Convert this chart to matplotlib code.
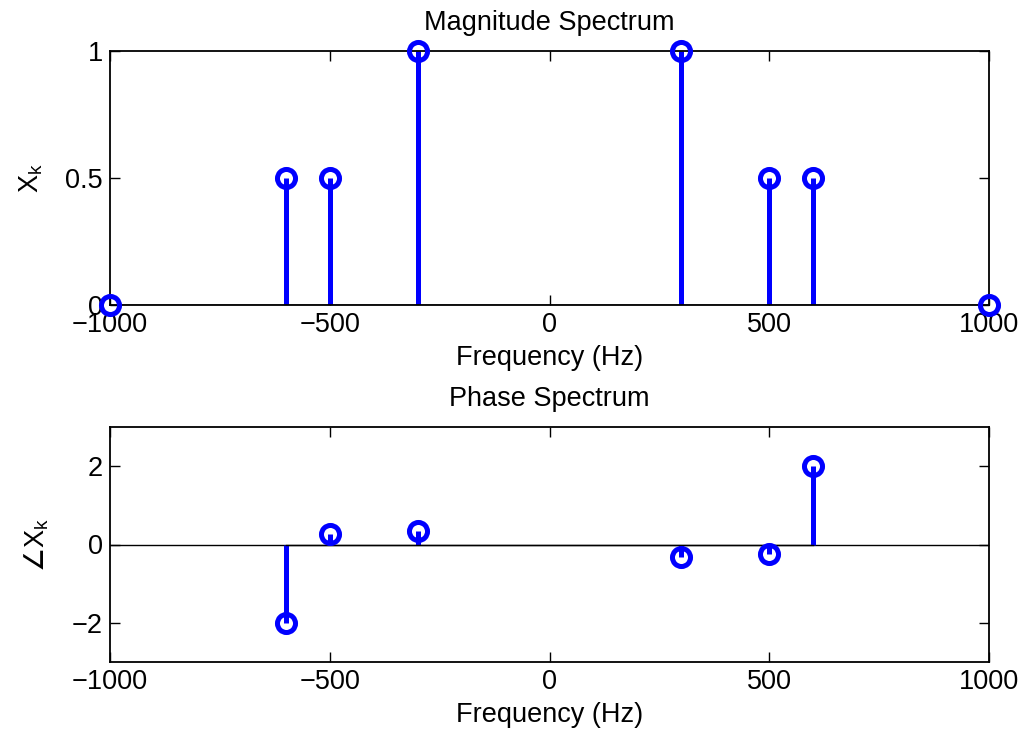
import matplotlib
matplotlib.use("Agg")
import matplotlib.pyplot as plt
import numpy as np

plt.rcParams['font.family'] = ['Liberation Sans', 'DejaVu Sans']
plt.rcParams['axes.unicode_minus'] = True

# Data
mag_freq = [-1000, -600, -500, -300, 300, 500, 600, 1000]
mag_vals = [0, 0.5, 0.5, 1.0, 1.0, 0.5, 0.5, 0]
phase_freq = [-600, -500, -300, 300, 500, 600]
phase_vals = [-2.0, 0.27, 0.35, -0.32, -0.25, 2.0]
xticks = [-1000, -500, 0, 500, 1000]
mag_yticks = [0, 0.5, 1]
phase_yticks = [-2, 0, 2]

fig = plt.figure(figsize=(10.24, 7.37), dpi=100)
ax1 = fig.add_axes([110/1024, 1-305/737, 879/1024, 254/737])
ax2 = fig.add_axes([110/1024, 1-662/737, 879/1024, 235/737])

FS = 19.5
blue = (0, 0, 1)

def stem(ax, x, y):
    ml, sl, bl = ax.stem(x, y, basefmt='k-')
    plt.setp(sl, color=blue, linewidth=3.6)
    plt.setp(ml, color=blue, markersize=13, markerfacecolor='none',
             markeredgewidth=3.6, zorder=4, clip_on=False)
    plt.setp(bl, color='black', linewidth=1.0)
    return ml, sl, bl

for ax in (ax1, ax2):
    for s in ax.spines.values():
        s.set_linewidth(1.3)
    ax.tick_params(direction='in', top=True, right=True, length=7, width=1,
                   labelsize=FS, pad=5)
    ax.set_xlim(-1000, 1000)
    ax.set_xticks(xticks)

stem(ax1, mag_freq, mag_vals)
ax1.axhline(0, color='black', lw=1.0, zorder=1)
ax1.set_ylim(0, 1)
ax1.set_yticks(mag_yticks)
ax1.set_yticklabels(['0', '0.5', '1'])
ax1.set_title('Magnitude Spectrum', fontsize=FS, pad=15)
ax1.set_xlabel('Frequency (Hz)', fontsize=FS, labelpad=5)
ax1.set_ylabel(r'X$_\mathregular{k}$', fontsize=FS, labelpad=15)

stem(ax2, phase_freq, phase_vals)
ax2.axhline(0, color='black', lw=1.0, zorder=1)
ax2.set_ylim(-3, 3)
ax2.set_yticks(phase_yticks)
ax2.set_title('Phase Spectrum', fontsize=FS, pad=15)
ax2.set_xlabel('Frequency (Hz)', fontsize=FS, labelpad=5)
ax2.set_ylabel(r'$\angle$X$_\mathregular{k}$', fontsize=FS, labelpad=15)

fig.savefig('out.png', dpi=100, facecolor='white')
